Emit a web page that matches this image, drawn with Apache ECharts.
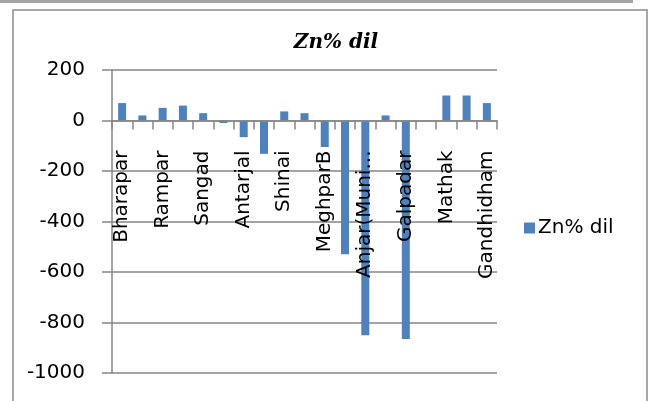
<!DOCTYPE html>
<html>
<head>
<meta charset="utf-8">
<script src="https://cdn.jsdelivr.net/npm/echarts@6/dist/echarts.min.js"></script>
<style>
html,body{margin:0;padding:0;background:#fff;}
#chart{width:652px;height:401px;}
</style>
</head>
<body>
<div id="chart"></div>
<script>
const categories = ["Bharapar", "", "Rampar", "", "Sangad", "", "Antarjal", "", "Shinai", "", "MeghparB", "", "Anjar(Muni...", "", "Galpadar", "", "Mathak", "", "Gandhidham"];
const znValues = [69, 20, 50, 59, 29, -10, -66, -132, 36, 29, -105, -530, -850, 20, -865, 0, 99, 99, 69];
const yTicks = { min: -1000, max: 200, interval: 200 };
const seriesName = "Zn% dil";
const chartTitle = "Zn% dil";

const chart = echarts.init(document.getElementById('chart'), null, { renderer: 'canvas' });
const gray = '#868686';
const font = 'DejaVu Sans';
const gridTop = 70, gridBottom = 28, chartH = 401;
// distance from the bottom of the grid up to the zero line, so the category axis sits on zero
const plotH = chartH - gridTop - gridBottom;
const zeroOffset = -plotH * (0 - yTicks.min) / (yTicks.max - yTicks.min);

chart.setOption({
  animation: false,
  backgroundColor: '#ffffff',
  title: {
    text: chartTitle,
    left: 331, top: 28, textAlign: 'center',
    textStyle: { fontFamily: 'DejaVu Serif', fontStyle: 'italic', fontWeight: 'bold', fontSize: 20, color: '#000' }
  },
  legend: {
    data: [seriesName],
    left: 519, top: 213,
    itemWidth: 11, itemHeight: 11, itemGap: 10,
    icon: 'rect',
    textStyle: { fontFamily: font, fontSize: 20, color: '#000', padding: [0, 0, 0, -2] }
  },
  graphic: [
    { type: 'rect', shape: { x: 0, y: 0, width: 633, height: 3 }, style: { fill: '#a6a6a6' }, silent: true },
    { type: 'rect', shape: { x: 13, y: 10, width: 634, height: 400 }, style: { fill: 'none', stroke: '#8c8c8c', lineWidth: 1.5 }, silent: true, z: -1 }
  ],
  grid: { left: 112, right: 155, top: gridTop, bottom: gridBottom, containLabel: false, outerBoundsMode: 'none' },
  xAxis: {
    type: 'category',
    data: categories,
    position: 'bottom',
    offset: zeroOffset,
    z: 5,
    axisLine: { onZero: false, lineStyle: { color: gray, width: 1.5 } },
    axisTick: { show: true, interval: 0, length: 9, lineStyle: { color: gray, width: 1.5 } },
    axisLabel: { interval: 1, rotate: 90, margin: 30, fontFamily: font, fontSize: 20, color: '#000' },
    splitLine: { show: false }
  },
  yAxis: {
    type: 'value',
    min: yTicks.min, max: yTicks.max, interval: yTicks.interval,
    axisLine: { show: true, lineStyle: { color: gray, width: 1.5 } },
    axisTick: { show: true, length: 10, lineStyle: { color: gray, width: 1.5 } },
    axisLabel: { margin: 27, fontFamily: font, fontSize: 20, color: '#000', formatter: function (v) { return String(v); } },
    splitLine: { show: true, lineStyle: { color: gray, width: 1.5 } }
  },
  series: [{
    name: seriesName,
    type: 'bar',
    data: znValues,
    barWidth: 8,
    itemStyle: { color: '#4F81BD' }
  }]
});
</script>
</body>
</html>
